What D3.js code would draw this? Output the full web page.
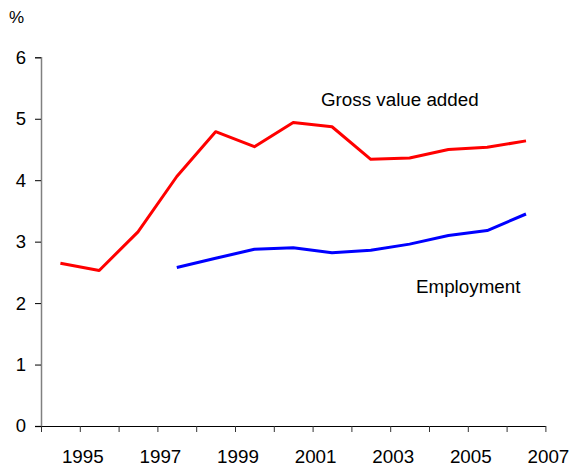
<!DOCTYPE html>
<html>
<head>
<meta charset="utf-8">
<script src="https://cdn.jsdelivr.net/npm/d3@7"></script>
<style>
  body { margin: 0; background: #fff; }
  svg { display: block; font-family: "Liberation Sans", Arial, sans-serif; }
</style>
</head>
<body>
<svg id="chart" width="571" height="469"></svg>
<script>
// Data (values plotted at mid-year)
const gvaYears = [1994, 1995, 1996, 1997, 1998, 1999, 2000, 2001, 2002, 2003, 2004, 2005, 2006];
const gvaValues = [2.65, 2.53, 3.16, 4.06, 4.79, 4.545, 4.94, 4.87, 4.34, 4.36, 4.50, 4.535, 4.64];
const empYears = [1997, 1998, 1999, 2000, 2001, 2002, 2003, 2004, 2005, 2006];
const empValues = [2.58, 2.73, 2.875, 2.90, 2.82, 2.86, 2.96, 3.10, 3.18, 3.45];
const xTickYears = [1994, 1995, 1996, 1997, 1998, 1999, 2000, 2001, 2002, 2003, 2004, 2005, 2006, 2007];
const xLabelYears = [1995, 1997, 1999, 2001, 2003, 2005, 2007];
const yTicks = [0, 1, 2, 3, 4, 5, 6];

const svg = d3.select("#chart");
const x = d3.scaleLinear().domain([1994, 2007]).range([41, 545.4]);
const y = d3.scaleLinear().domain([0, 6]).range([426, 57.3]);

// Y axis
const yAxis = svg.append("g").attr("transform", "translate(41,0)")
  .call(d3.axisLeft(y).tickValues(yTicks).tickSize(6).tickPadding(9).tickFormat(d3.format("d")));
yAxis.select(".domain").attr("stroke", "#808080").attr("stroke-width", 1.5);
yAxis.selectAll(".tick line").attr("stroke", "#000");
yAxis.selectAll(".tick text").attr("font-size", 18.5).attr("fill", "#000")
  .attr("font-family", "Liberation Sans, Arial, sans-serif");

// X axis
const xAxis = svg.append("g").attr("transform", "translate(0,426)")
  .call(d3.axisBottom(x).tickValues(xTickYears).tickSize(6).tickSizeOuter(0).tickFormat(""));
xAxis.select(".domain").attr("stroke", "#000").attr("stroke-width", 1.2);
xAxis.selectAll(".tick line").attr("stroke", "#333");

svg.append("g").selectAll("text").data(xLabelYears).join("text")
  .attr("x", d => x(d) + 3)
  .attr("y", 463)
  .attr("text-anchor", "middle")
  .attr("font-size", 18.8)
  .attr("fill", "#000")
  .text(d => d);

// Lines
const line = d3.line().x(d => x(d[0] + 0.5)).y(d => y(d[1]));
svg.append("path")
  .datum(gvaYears.map((yr, i) => [yr, gvaValues[i]]))
  .attr("d", line).attr("fill", "none").attr("stroke", "#ff0000")
  .attr("stroke-width", 3).attr("stroke-linejoin", "round");
svg.append("path")
  .datum(empYears.map((yr, i) => [yr, empValues[i]]))
  .attr("d", line).attr("fill", "none").attr("stroke", "#0000ff")
  .attr("stroke-width", 3).attr("stroke-linejoin", "round");

// Labels
svg.append("text").attr("x", 9).attr("y", 23).attr("font-size", 17).attr("fill", "#000").text("%");
svg.append("text").attr("x", 321).attr("y", 106).attr("font-size", 18.8).attr("fill", "#000").text("Gross value added");
svg.append("text").attr("x", 416).attr("y", 293).attr("font-size", 18.8).attr("fill", "#000").text("Employment");
</script>
</body>
</html>
